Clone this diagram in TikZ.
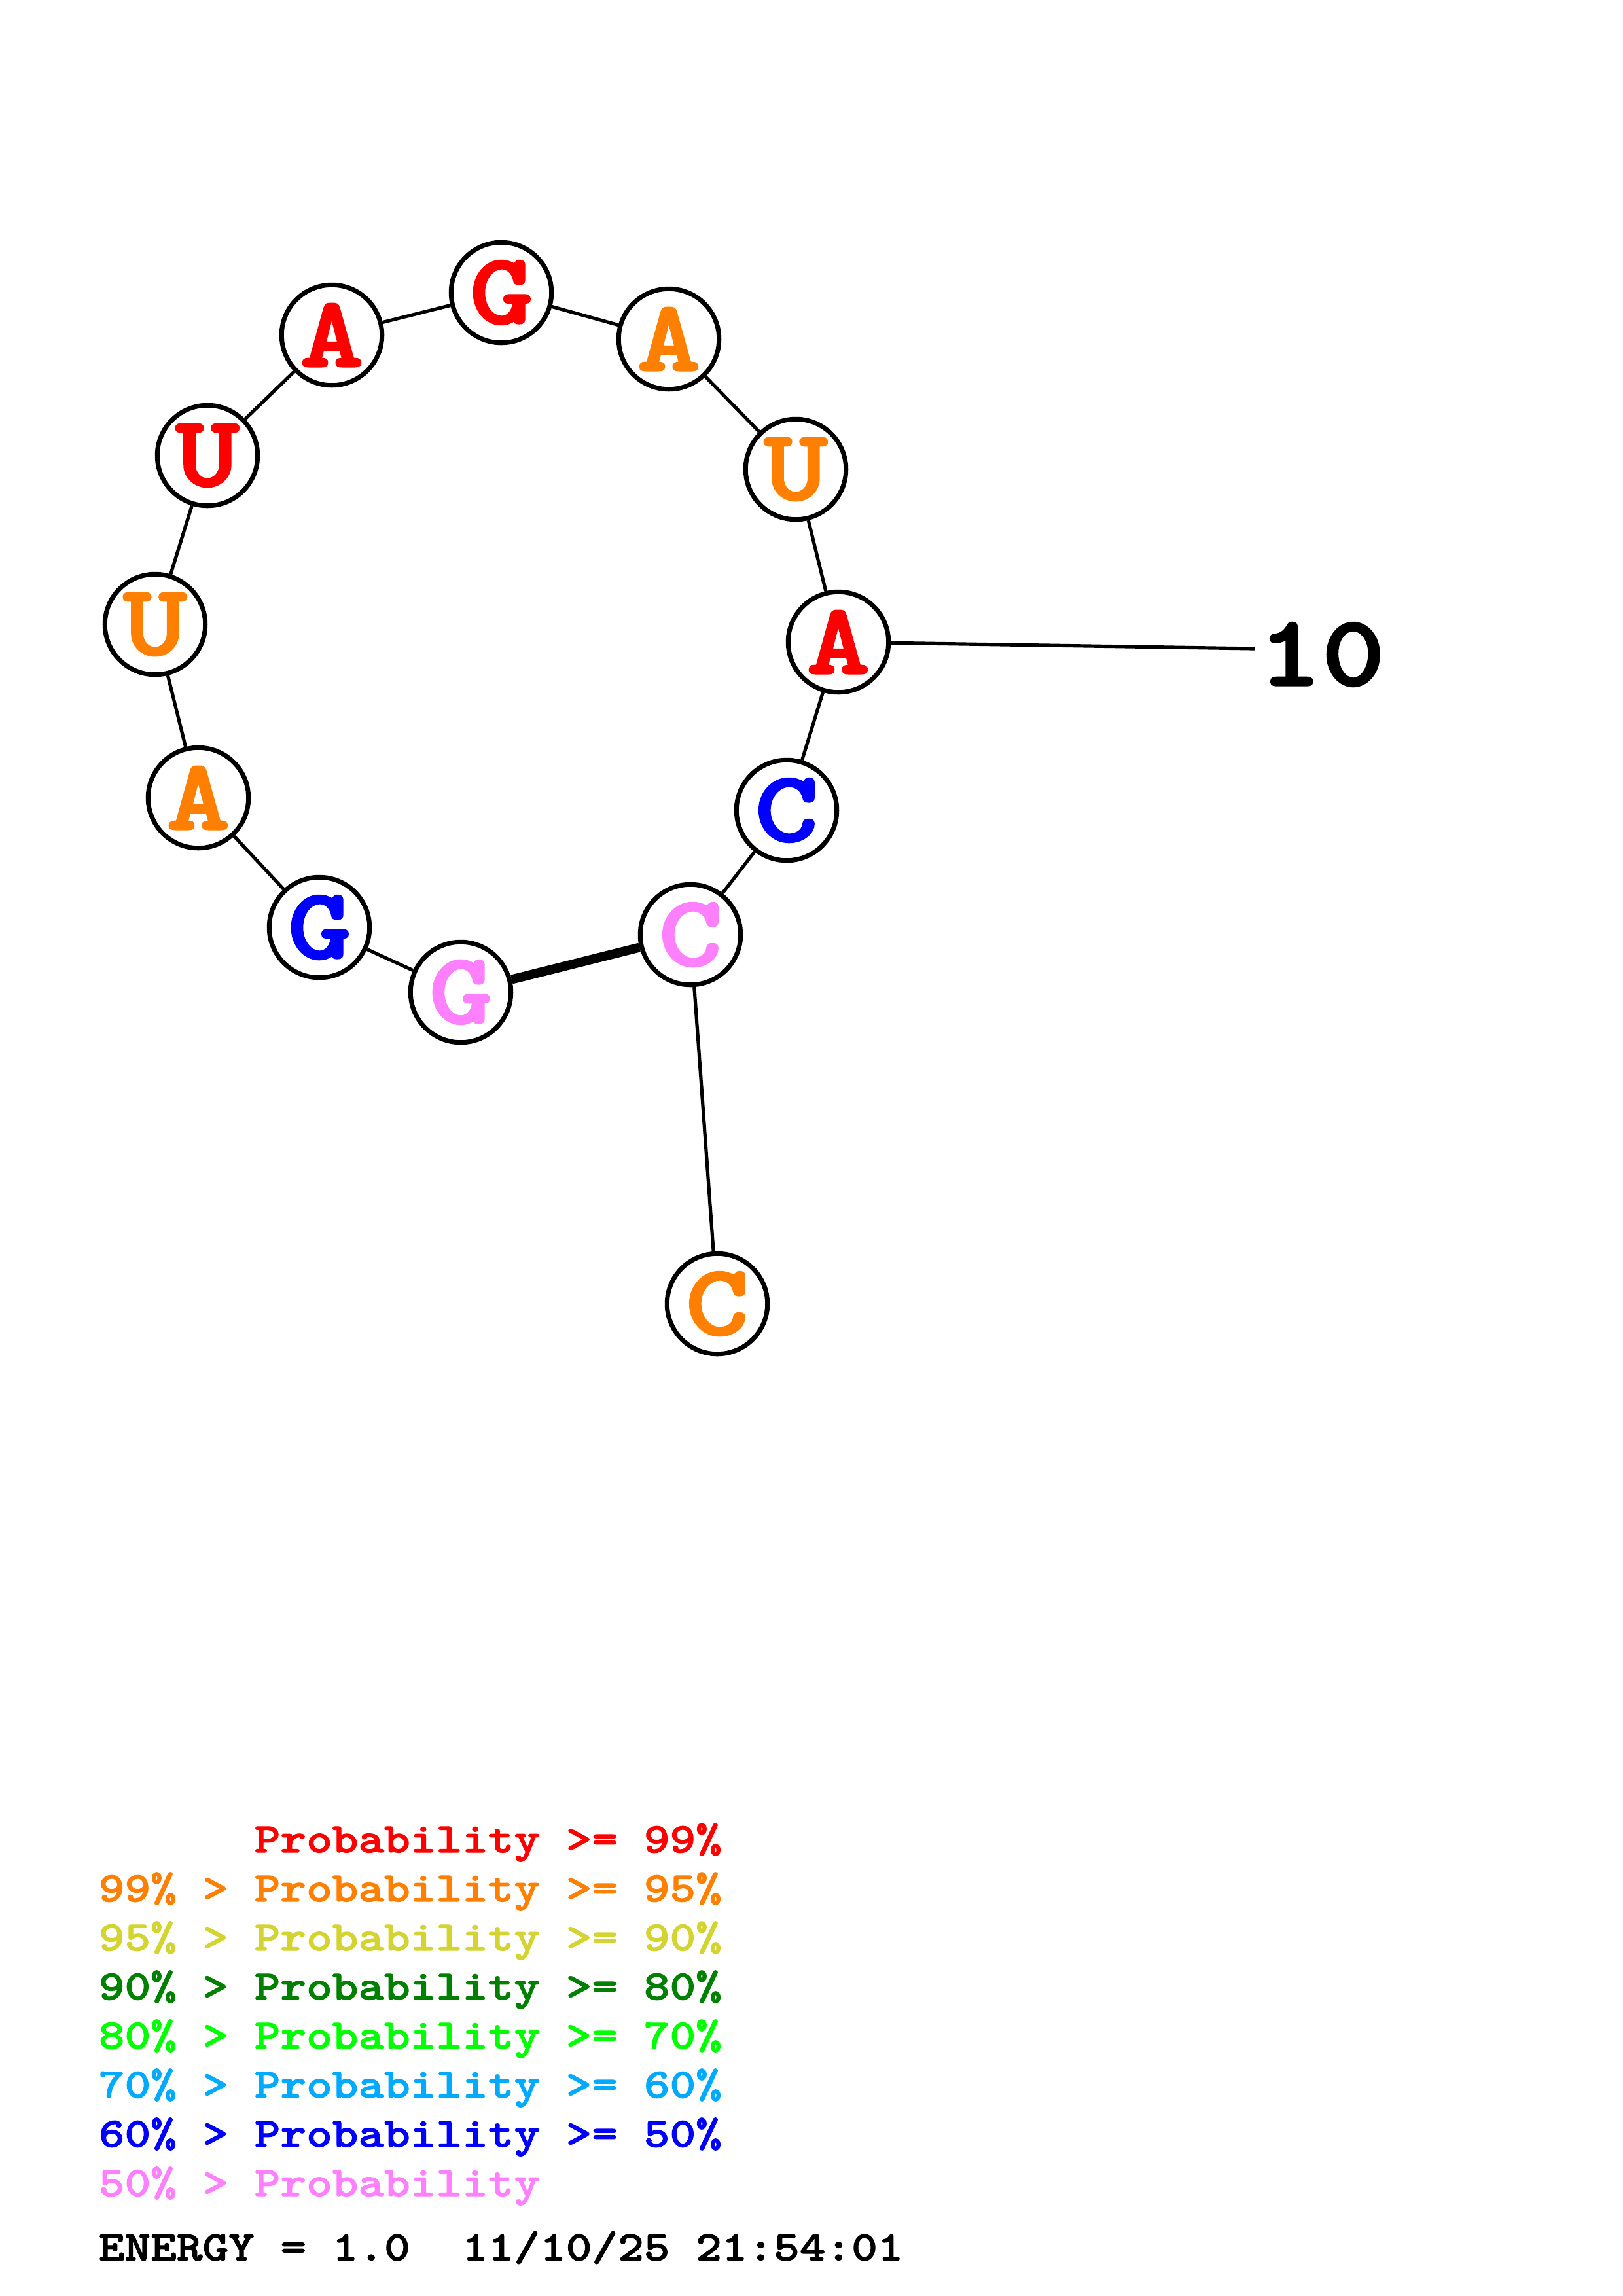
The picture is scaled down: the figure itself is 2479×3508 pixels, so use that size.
\documentclass[tikz,border=0pt]{standalone}
\usepackage{fontspec}
\newfontfamily\basefont{lmmonolt10-bold.otf}[FakeStretch=1.2, FakeBold=2.2]
\newfontfamily\legendfont{lmmonolt10-bold.otf}[FakeStretch=1.175, FakeBold=1.6]
\definecolor{prred}{RGB}{255,0,0}
\definecolor{prorange}{RGB}{255,128,0}
\definecolor{pryellow}{RGB}{212,212,48}
\definecolor{prdkgreen}{RGB}{0,128,0}
\definecolor{prgreen}{RGB}{0,255,0}
\definecolor{prsky}{RGB}{0,170,255}
\definecolor{prblue}{RGB}{0,0,255}
\definecolor{prpink}{RGB}{255,128,255}
\begin{document}
\begin{tikzpicture}[x=0.08471mm, y=-0.08471mm,
        base/.style={circle, draw, fill=white, line width=1.7pt, minimum size=13mm,
            inner sep=0pt, font=\fontsize{37}{37}\selectfont\basefont},
        backbone/.style={line width=1.25pt},
        pairbond/.style={line width=3.4pt},
        legend/.style={anchor=west, inner sep=0pt, font=\fontsize{15.5}{15.5}\selectfont\legendfont}]
        \useasboundingbox (0,0) rectangle (2479,3508);

        % bases, 5' to 3'
        \node[base, text=prpink]   (n1)  at (704, 1516) {G};
        \node[base, text=prblue]   (n2)  at (488, 1417) {G};
        \node[base, text=prorange] (n3)  at (303, 1219) {A};
        \node[base, text=prorange] (n4)  at (237, 954)  {U};
        \node[base, text=prred]    (n5)  at (317, 696)  {U};
        \node[base, text=prred]    (n6)  at (507, 512)  {A};
        \node[base, text=prred]    (n7)  at (766, 447)  {G};
        \node[base, text=prorange] (n8)  at (1022, 518) {A};
        \node[base, text=prorange] (n9)  at (1216, 717) {U};
        \node[base, text=prred]    (n10) at (1281, 981) {A};
        \node[base, text=prblue]   (n11) at (1202, 1238) {C};
        \node[base, text=prpink]   (n12) at (1055, 1428) {C};
        \node[base, text=prorange] (n13) at (1096, 1992) {C};

        % numbering
        \coordinate (tick10) at (1917, 991);
        \node[anchor=west, inner sep=0pt, font=\fontsize{37}{37}\selectfont\basefont] (lbl10) at (1922, 1000) {10};

        % backbone
        \draw[backbone] (n1) -- (n2);
        \draw[backbone] (n2) -- (n3);
        \draw[backbone] (n3) -- (n4);
        \draw[backbone] (n4) -- (n5);
        \draw[backbone] (n5) -- (n6);
        \draw[backbone] (n6) -- (n7);
        \draw[backbone] (n7) -- (n8);
        \draw[backbone] (n8) -- (n9);
        \draw[backbone] (n9) -- (n10);
        \draw[backbone] (n10) -- (n11);
        \draw[backbone] (n11) -- (n12);
        \draw[backbone] (n12) -- (n13);
        \draw[backbone] (n10) -- (tick10);

        % pair
        \draw[pairbond] (n1) -- (n12);

        % legend
        \node[legend, text=prred]     (leg1) at (150, 2815) {\phantom{99\% > }Probability >= 99\%};
        \node[legend, text=prorange]  (leg2) at (150, 2890) {99\% > Probability >= 95\%};
        \node[legend, text=pryellow]  (leg3) at (150, 2965) {95\% > Probability >= 90\%};
        \node[legend, text=prdkgreen] (leg4) at (150, 3040) {90\% > Probability >= 80\%};
        \node[legend, text=prgreen]   (leg5) at (150, 3115) {80\% > Probability >= 70\%};
        \node[legend, text=prsky]     (leg6) at (150, 3190) {70\% > Probability >= 60\%};
        \node[legend, text=prblue]    (leg7) at (150, 3265) {60\% > Probability >= 50\%};
        \node[legend, text=prpink]    (leg8) at (150, 3340) {50\% > Probability};
        \node[legend]                 (energy) at (150, 3434) {ENERGY = 1.0\ \ 11/10/25 21:54:01};
\end{tikzpicture}
\end{document}
